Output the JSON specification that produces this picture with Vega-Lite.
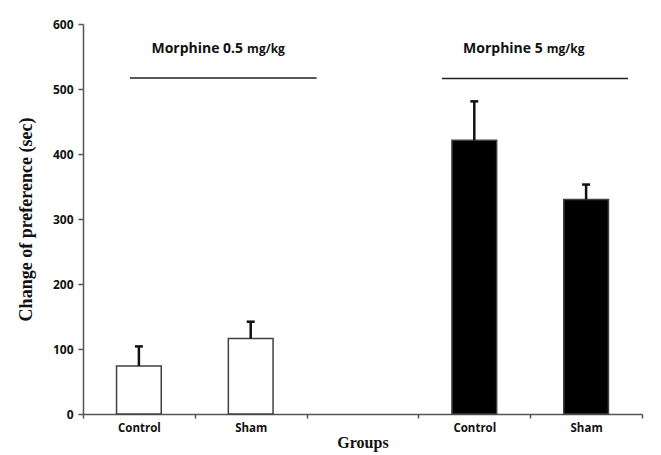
{
  "$schema": "https://vega.github.io/schema/vega-lite/v6.json",
  "width": 559,
  "height": 390,
  "autosize": {"type": "none"},
  "padding": {"left": 83, "top": 24, "right": 19, "bottom": 41},
  "background": "white",
  "config": {"view": {"stroke": null}},
  "datasets": {
    "bars": [
      {"group": "C1", "dose": "0.5", "mean": 74, "upper": 104},
      {"group": "S1", "dose": "0.5", "mean": 116, "upper": 142},
      {"group": "C2", "dose": "5", "mean": 421, "upper": 481},
      {"group": "S2", "dose": "5", "mean": 330, "upper": 353}
    ],
    "ann1": [{"from": "C1", "to": "G", "at": "S1", "y": 517, "ty": 556, "main": "Morphine 0.5", "unit": "mg/kg"}],
    "ann2": [{"from": "C2", "to": "S2", "at": "S2", "y": 516, "ty": 556, "main": "Morphine 5", "unit": "mg/kg"}]
  },
  "layer": [
    {
      "data": {"name": "bars"},
      "mark": {"type": "bar", "width": {"band": 0.4}, "stroke": "#404040", "strokeWidth": 1.5},
      "encoding": {
        "x": {
          "field": "group", "type": "nominal", "title": "Groups",
          "scale": {"domain": ["C1", "S1", "G", "C2", "S2"], "paddingInner": 0, "paddingOuter": 0},
          "axis": {
            "labelExpr": "datum.value == 'C1' || datum.value == 'C2' ? 'Control' : (datum.value == 'S1' || datum.value == 'S2' ? 'Sham' : '')",
            "labelAngle": 0, "tickBand": "extent", "tickSize": 4, "tickColor": "#555", "tickWidth": 1.5,
            "domainColor": "#555", "domainWidth": 1.5,
            "labelFont": "Open Sans", "labelFontWeight": "bold", "labelFontSize": 11.5, "labelColor": "#111", "labelPadding": 4,
            "titleFont": "Liberation Serif", "titleFontWeight": "bold", "titleFontSize": 16, "titleColor": "#111", "titlePadding": 1
          }
        },
        "y": {
          "field": "mean", "type": "quantitative", "title": "Change of preference (sec)",
          "scale": {"domain": [0, 600], "nice": false},
          "axis": {
            "values": [0, 100, 200, 300, 400, 500, 600], "grid": false,
            "tickSize": 5, "tickColor": "#555", "tickWidth": 1.5, "domainColor": "#555", "domainWidth": 1.5,
            "labelFont": "Open Sans", "labelFontWeight": "bold", "labelFontSize": 12, "labelColor": "#111", "labelPadding": 5,
            "titleFont": "Liberation Serif", "titleFontWeight": "bold", "titleFontSize": 18, "titleColor": "#111", "titlePadding": 17
          }
        },
        "fill": {"field": "dose", "type": "nominal", "scale": {"domain": ["0.5", "5"], "range": ["white", "black"]}, "legend": null}
      }
    },
    {
      "data": {"name": "bars"},
      "mark": {"type": "rule", "strokeWidth": 2.5, "color": "#111"},
      "encoding": {
        "x": {"field": "group", "type": "nominal", "title": "Groups"},
        "y": {"field": "mean", "type": "quantitative", "title": "Change of preference (sec)"},
        "y2": {"field": "upper"}
      }
    },
    {
      "data": {"name": "bars"},
      "mark": {"type": "tick", "orient": "horizontal", "size": 8, "thickness": 2.5, "color": "#111", "opacity": 1},
      "encoding": {
        "x": {"field": "group", "type": "nominal", "title": "Groups"},
        "y": {"field": "upper", "type": "quantitative", "title": "Change of preference (sec)"}
      }
    },
    {
      "data": {"name": "ann1"},
      "layer": [
        {
          "mark": {"type": "rule", "strokeWidth": 1.5, "color": "#222"},
          "encoding": {
            "x": {"field": "from", "type": "nominal", "bandPosition": 0.42, "title": "Groups"},
            "x2": {"field": "to", "bandPosition": 0.09},
            "y": {"field": "y", "type": "quantitative", "title": "Change of preference (sec)"}
          }
        },
        {
          "mark": {"type": "text", "align": "right", "baseline": "alphabetic", "dx": -2, "font": "Open Sans", "fontWeight": "bold", "fontSize": 14, "color": "#111"},
          "encoding": {
            "x": {"field": "at", "type": "nominal", "bandPosition": 0.45, "title": "Groups"},
            "y": {"field": "ty", "type": "quantitative", "title": "Change of preference (sec)"},
            "text": {"field": "main"}
          }
        },
        {
          "mark": {"type": "text", "align": "left", "baseline": "alphabetic", "dx": 2, "font": "Open Sans", "fontWeight": "bold", "fontSize": 12, "color": "#111"},
          "encoding": {
            "x": {"field": "at", "type": "nominal", "bandPosition": 0.45, "title": "Groups"},
            "y": {"field": "ty", "type": "quantitative", "title": "Change of preference (sec)"},
            "text": {"field": "unit"}
          }
        }
      ]
    },
    {
      "data": {"name": "ann2"},
      "layer": [
        {
          "mark": {"type": "rule", "strokeWidth": 1.5, "color": "#222"},
          "encoding": {
            "x": {"field": "from", "type": "nominal", "bandPosition": 0.21, "title": "Groups"},
            "x2": {"field": "to", "bandPosition": 0.875},
            "y": {"field": "y", "type": "quantitative", "title": "Change of preference (sec)"}
          }
        },
        {
          "mark": {"type": "text", "align": "right", "baseline": "alphabetic", "dx": -2, "font": "Open Sans", "fontWeight": "bold", "fontSize": 14, "color": "#111"},
          "encoding": {
            "x": {"field": "at", "type": "nominal", "bandPosition": 0.13, "title": "Groups"},
            "y": {"field": "ty", "type": "quantitative", "title": "Change of preference (sec)"},
            "text": {"field": "main"}
          }
        },
        {
          "mark": {"type": "text", "align": "left", "baseline": "alphabetic", "dx": 2, "font": "Open Sans", "fontWeight": "bold", "fontSize": 12, "color": "#111"},
          "encoding": {
            "x": {"field": "at", "type": "nominal", "bandPosition": 0.13, "title": "Groups"},
            "y": {"field": "ty", "type": "quantitative", "title": "Change of preference (sec)"},
            "text": {"field": "unit"}
          }
        }
      ]
    }
  ]
}
